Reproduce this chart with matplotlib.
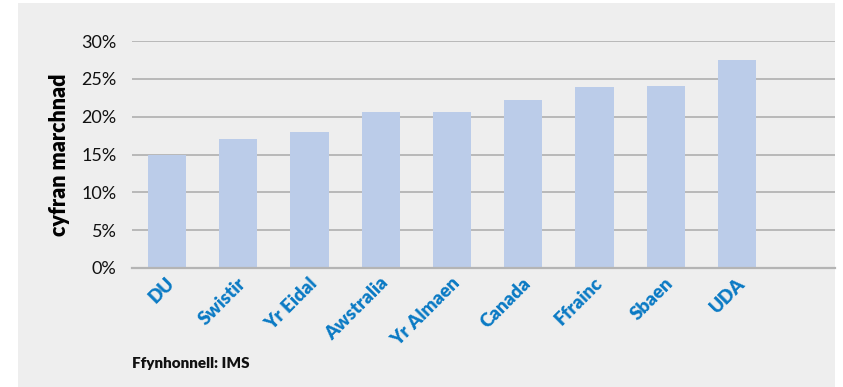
import numpy as np
import matplotlib.pyplot as plt
import matplotlib.transforms as mtransforms
from matplotlib.patches import Rectangle
from matplotlib.ticker import FuncFormatter

# cyfran marchnad fesul gwlad
gwledydd = ['DU', 'Swistir', 'Yr Eidal', 'Awstralia', 'Yr Almaen',
            'Canada', 'Ffrainc', 'Sbaen', 'UDA']
cyfran = [15.0, 17.0, 18.0, 20.6, 20.6, 22.2, 23.9, 24.0, 27.5]
yticks = [0, 5, 10, 15, 20, 25, 30]

plt.rcParams['font.family'] = ['Lato', 'DejaVu Sans']

fig = plt.figure(figsize=(8.43, 3.87), dpi=100)
W, H = 843, 387

# cefndir llwyd
fig.patches.append(Rectangle((18 / W, 0), (835 - 18) / W, (387 - 3) / H,
                             transform=fig.transFigure, facecolor='#eeeeee',
                             edgecolor='none', zorder=-10))

ax = fig.add_axes([132 / W, 1 - 268 / H, (835 - 132) / W, (268 - 41) / H])
ax.patch.set_visible(False)

x = np.arange(len(gwledydd))
ax.bar(x, cyfran, width=0.535, color='#bbcce9', zorder=2)

ax.set_xlim(-0.491, 9.375)
ax.set_ylim(0, 30)
ax.set_yticks(yticks)
ax.yaxis.set_major_formatter(FuncFormatter(lambda v, p: f'{v:.0f}%'))
ax.yaxis.grid(True, color='#b4b4b4', linewidth=1.3, zorder=1)
ax.set_axisbelow(True)
for s in ['top', 'right', 'left']:
    ax.spines[s].set_visible(False)
ax.spines['bottom'].set_color('#b4b4b4')
ax.spines['bottom'].set_linewidth(1.6)
ax.tick_params(axis='y', length=0, pad=11, labelsize=13, labelcolor='#111111')
ax.tick_params(axis='x', length=0, pad=9)

ax.set_xticks(x)
ax.set_xticklabels(gwledydd, rotation=45, ha='right', va='center',
                   rotation_mode='anchor', fontsize=13.5, fontweight='heavy',
                   color='#0a7ac4')
shift = mtransforms.ScaledTranslation(5 / 100, 0, fig.dpi_scale_trans)
for lab in ax.get_xticklabels():
    lab.set_transform(lab.get_transform() + shift)

ax.set_ylabel('cyfran marchnad', fontsize=15.5, fontweight='heavy', labelpad=8)

fig.text(132 / W, 1 - 363 / H, 'Ffynhonnell: IMS', fontsize=11,
         fontweight='heavy', va='center', ha='left', color='#111111')

fig.savefig('out.png', dpi=100)
